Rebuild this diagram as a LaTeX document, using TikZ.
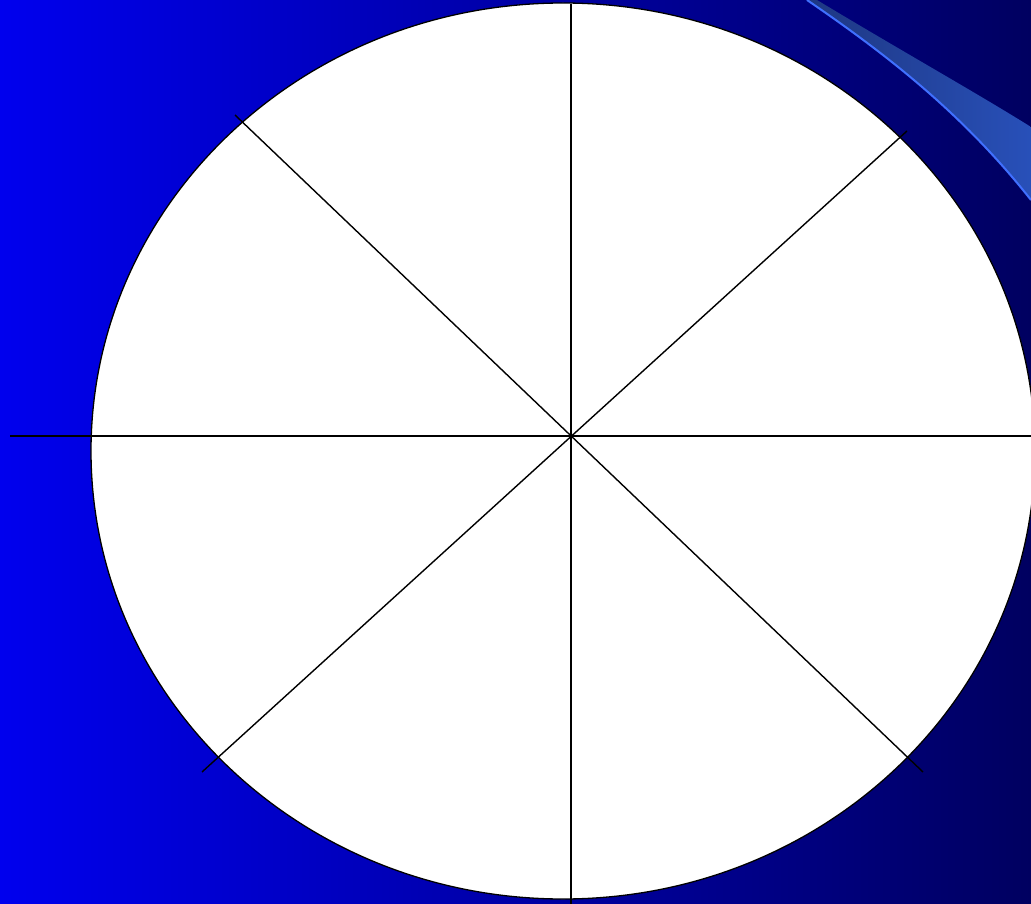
\documentclass[tikz,border=0pt]{standalone}
\usetikzlibrary{shapes.geometric}
\definecolor{bgleft}{RGB}{0,0,238}
\definecolor{bgright}{RGB}{0,0,96}
\definecolor{swooshline}{RGB}{64,112,255}
\definecolor{swooshA}{RGB}{30,55,130}
\definecolor{swooshB}{RGB}{40,80,185}
\tikzset{
  spoke/.style={draw=black, line width=1.4pt},
  disc/.style={draw=black, fill=white, line width=1.3pt}
}
\begin{document}
\begin{tikzpicture}[x=1pt,y=-1pt]
  \useasboundingbox (0,0) rectangle (1031,904);
  \clip (0,0) rectangle (1031,904);
  % background
  \shade[left color=bgleft, right color=bgright] (0,0) rectangle (1031,904);
  % swoosh wedge
  \shade[left color=swooshA, right color=swooshB]
    (817,0) .. controls (900,50) and (980,95) .. (1031,127)
    -- (1031,200) .. controls (960,110) and (880,50) .. (807,0) -- cycle;
  \draw[swooshline, line width=2pt]
    (807,0) .. controls (880,50) and (960,110) .. (1031,200);
  % disc
  \node[disc, ellipse, minimum width=944pt, minimum height=896pt, inner sep=0pt] (wheel) at (563,451) {};
  % spoke ends
  \coordinate (c) at (571,436);
  \coordinate (w) at (10,436);
  \coordinate (e) at (1031,436);
  \coordinate (n) at (571,4);
  \coordinate (s) at (571,904);
  \coordinate (nw) at (235,115);
  \coordinate (se) at (923,772);
  \coordinate (ne) at (907,131);
  \coordinate (sw) at (202,772);
  \draw[spoke] (w) -- (e);
  \draw[spoke] (n) -- (s);
  \draw[spoke] (nw) -- (se);
  \draw[spoke] (ne) -- (sw);
\end{tikzpicture}
\end{document}
